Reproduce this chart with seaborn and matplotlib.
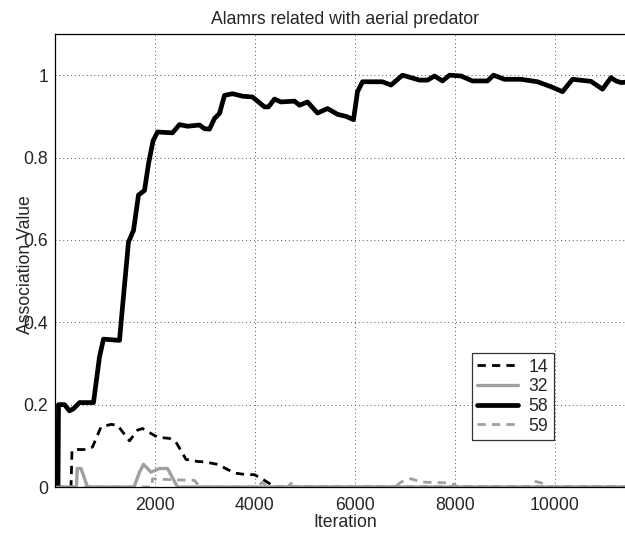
import pandas as pd
import matplotlib
matplotlib.use('Agg')
import matplotlib.pyplot as plt
import seaborn as sns

# Association values
it14 = [0, 320, 340, 450, 620, 750, 920, 1120, 1250, 1490, 1650, 1750, 1920, 2050, 2290, 2420, 2620, 2850, 2990, 3250, 3590, 3820, 3990, 4190, 4320, 4400, 11600]
v14 = [0, 0, 0.089, 0.091, 0.091, 0.097, 0.146, 0.152, 0.15, 0.112, 0.138, 0.142, 0.13, 0.121, 0.118, 0.109, 0.067, 0.062, 0.061, 0.055, 0.034, 0.03, 0.03, 0.016, 0.006, 0, 0]

it32 = [0, 430, 445, 520, 650, 1500, 1580, 1690, 1770, 1920, 2090, 2250, 2450, 11600]
v32 = [0, 0, 0.045, 0.045, 0, 0, 0, 0.036, 0.055, 0.036, 0.045, 0.045, 0, 0]

it58 = [0, 60, 70, 190, 290, 370, 490, 770, 890, 970, 1290, 1350, 1470, 1570, 1670, 1790, 1870, 1960, 2050, 2350,
        2490, 2650, 2890, 2990, 3090, 3190, 3290, 3390, 3550, 3750, 3950, 4190, 4270, 4390, 4520, 4790, 4890, 5050, 5250, 5450,
        5650, 5820, 5970, 6050, 6150, 6550, 6720, 6950, 7290, 7450, 7590, 7750, 7890, 8120, 8350, 8650, 8770, 8990, 9320, 9650,
        9920, 10150, 10350, 10720, 10950, 11120, 11220, 11320, 11600]
v58 = [0, 0, 0.2, 0.2, 0.185, 0.19, 0.205, 0.205, 0.316, 0.359, 0.356, 0.437, 0.595, 0.623, 0.709, 0.72, 0.785, 0.84, 0.862, 0.86,
       0.88, 0.876, 0.879, 0.87, 0.869, 0.895, 0.907, 0.951, 0.955, 0.949, 0.947, 0.923, 0.923, 0.942, 0.935, 0.937, 0.927, 0.935, 0.908, 0.919,
       0.905, 0.9, 0.892, 0.96, 0.984, 0.984, 0.976, 1.0, 0.988, 0.988, 0.998, 0.986, 1.0, 0.998, 0.986, 0.986, 1.0, 0.99, 0.99, 0.984,
       0.972, 0.96, 0.99, 0.985, 0.966, 0.994, 0.986, 0.982, 0.985]

it59 = [0, 1940, 1950, 2050, 2790, 2900, 4050, 4150, 4250, 4650, 4750, 4850, 6800, 6920, 7120, 7320, 7850, 7990, 8050, 9500, 9590, 9790, 9850, 11600]
v59 = [0, 0, 0.02, 0.019, 0.016, 0, 0, 0.012, 0, 0, 0.012, 0, 0, 0.012, 0.02, 0.012, 0.01, 0.006, 0, 0, 0.014, 0.008, 0, 0]

sns.set_style('white')
plt.rcParams['font.family'] = ['Liberation Sans', 'DejaVu Sans']
fs = 12.7

fig = plt.figure(figsize=(6.25, 5.35), dpi=100)
# right edge of the axes runs just past the picture, as in the reference
ax = fig.add_axes([55 / 625, 48 / 535, 580 / 625, 453 / 535])

gray = '#a0a0a0'
series = [
    ('14', it14, v14, 'black', 2.0, (3, 2.2)),
    ('32', it32, v32, gray, 2.4, None),
    ('58', it58, v58, 'black', 3.4, None),
    ('59', it59, v59, gray, 2.0, (3, 2.2)),
]
for name, xs, ys, col, lw, dash in series:
    df = pd.DataFrame({'Iteration': xs, 'Association Value': ys})
    sns.lineplot(data=df, x='Iteration', y='Association Value', ax=ax, color=col,
                 linewidth=lw, sort=False, estimator=None, label=name)
    if dash:
        ax.lines[-1].set_dashes(dash)

ax.set_xlim(0, 11600)
ax.set_ylim(0, 1.1)
ax.set_xticks([2000, 4000, 6000, 8000, 10000])
ax.set_yticks([0, 0.2, 0.4, 0.6, 0.8, 1])
ax.set_yticklabels(['0', '0.2', '0.4', '0.6', '0.8', '1'])
ax.tick_params(direction='in', length=5, labelsize=fs, color='black', pad=5)
ax.tick_params(axis='x', pad=7)
ax.grid(True, linestyle=(0, (1, 3)), color='#555555', linewidth=0.7)
for s in ax.spines.values():
    s.set_color('black')
    s.set_linewidth(0.9)

ax.set_title('Alamrs related with aerial predator', fontsize=fs, pad=7)
ax.set_xlabel('Iteration', fontsize=fs, labelpad=0)
ax.set_ylabel('Association Value', fontsize=fs)
ax.yaxis.set_label_coords(-0.036, 0.49)

leg = ax.legend(loc='lower left', bbox_to_anchor=(0.719, 0.104), fontsize=fs, frameon=True,
                fancybox=False, edgecolor='black', handlelength=2.3, borderpad=0.3,
                labelspacing=0.15, handletextpad=0.6, borderaxespad=0)
leg.get_frame().set_linewidth(0.9)

fig.savefig('out.png', dpi=100)
